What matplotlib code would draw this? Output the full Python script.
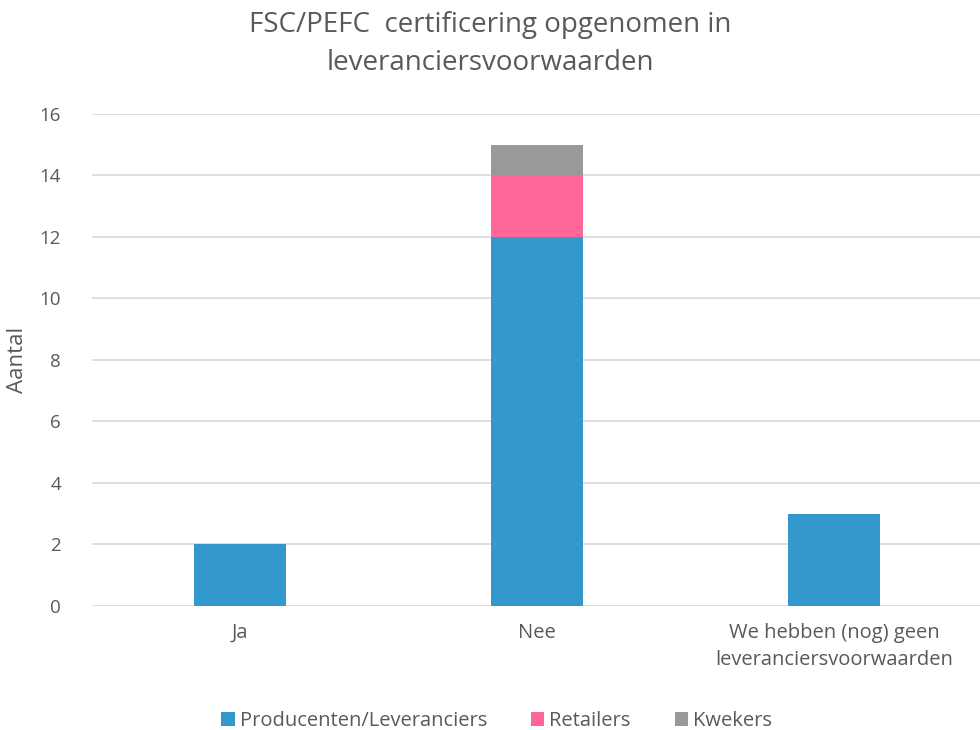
import numpy as np
import matplotlib
matplotlib.use('Agg')
import matplotlib.pyplot as plt

plt.rcParams['font.family'] = ['Open Sans', 'DejaVu Sans']

categories = ['Ja', 'Nee', 'We hebben (nog) geen\nleveranciersvoorwaarden']
producenten = [2, 12, 3]
retailers = [0, 2, 0]
kwekers = [0, 1, 0]

text_color = '#595959'

fig = plt.figure(figsize=(9.8, 7.3), dpi=100)
ax = fig.add_axes([0.0934, 0.1699, 0.909, 0.674])

x = np.arange(len(categories))
w = 0.31
ax.bar(x, producenten, w, color='#3399CC', label='Producenten/Leveranciers', zorder=3)
ax.bar(x, retailers, w, bottom=producenten, color='#FF6699', label='Retailers', zorder=3)
bottom2 = np.array(producenten) + np.array(retailers)
ax.bar(x, kwekers, w, bottom=bottom2, color='#999999', label='Kwekers', zorder=3)

ax.set_xlim(-0.5, 2.5)
ax.set_ylim(0, 16)
ax.set_yticks(range(0, 17, 2))
ax.set_xticks(x)
ax.set_xticklabels(categories, fontsize=14.5, color=text_color, linespacing=1.5)
ax.tick_params(axis='y', labelsize=13.5, labelcolor=text_color, length=0, pad=22)
ax.tick_params(axis='x', length=0, pad=12)
ax.grid(axis='y', color='#D9D9D9', linewidth=1.2, zorder=0)
for s in ax.spines.values():
    s.set_visible(False)

ax.set_ylabel('Aantal', fontsize=16, color=text_color, labelpad=8)

fig.text(0.5, 0.985, 'FSC/PEFC  certificering opgenomen in\nleveranciersvoorwaarden',
         ha='center', va='top', fontsize=20, color=text_color, linespacing=1.5)

fig.legend(loc='center', bbox_to_anchor=(0.507, 0.012), ncol=3, frameon=False,
           fontsize=14.5, labelcolor=text_color, handlelength=0.65, handleheight=0.65,
           handletextpad=0.25, columnspacing=2.2)

fig.savefig('out.png', dpi=100)
